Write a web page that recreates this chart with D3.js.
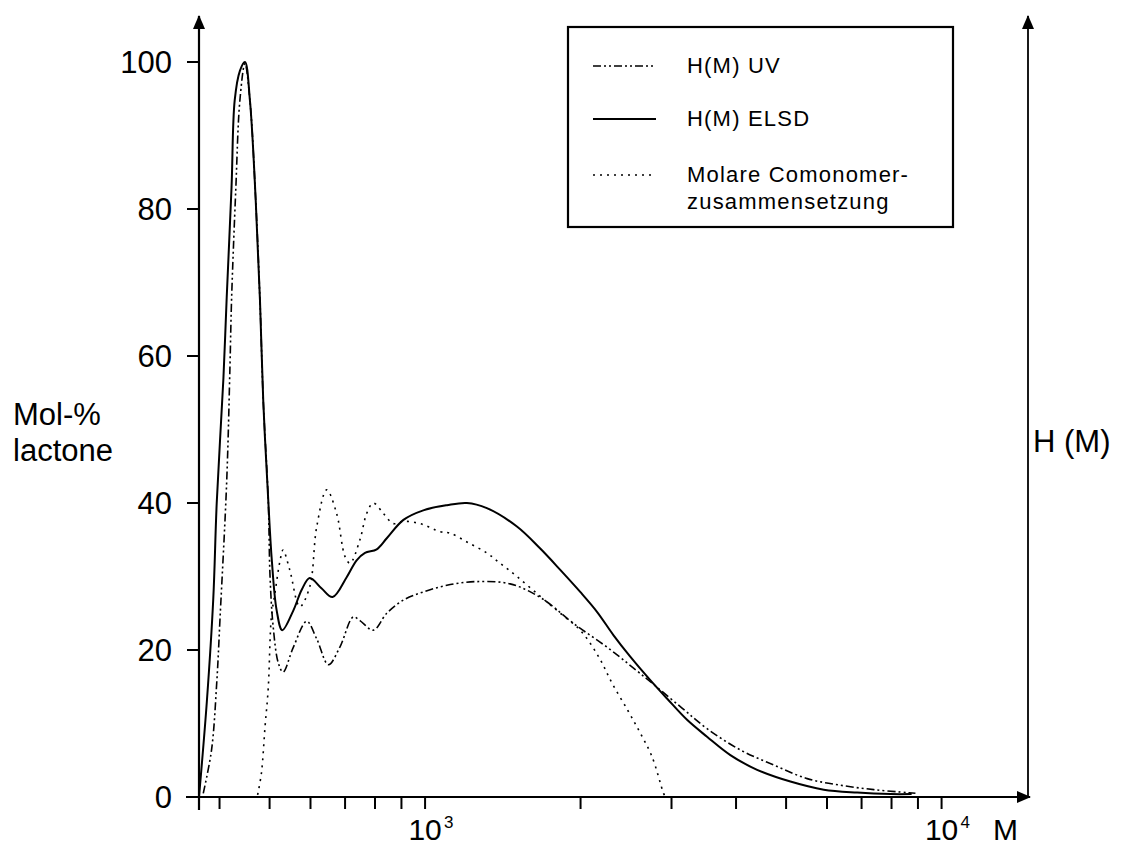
<!DOCTYPE html>
<html>
<head>
<meta charset="utf-8">
<script src="https://cdn.jsdelivr.net/npm/d3@7"></script>
<style>
  body { margin: 0; background: #fff; }
  text { font-family: "Liberation Sans", Arial, sans-serif; fill: #000; }
</style>
</head>
<body>
<svg width="1128" height="847"></svg>
<script>
// values: [M, H]
var uvData = [
  [372,0.5],[386,6.4],[395,15.5],[401,24.5],[413,43],[419,58.5],[422,67.6],[430,82.6],[438,94.8],[448,99.8],
  [458,94.8],[470,81.2],[479,67.6],[486,54],[497,40.4],[501,30],[508,23.2],[520,18.2],[531,17],
  [556,20.4],[590,23.9],[617,21.5],[650,18],[684,20.4],[726,24.5],[748,24],[794,22.7],[843,25],
  [908,26.8],[992,27.9],[1102,28.8],[1250,29.3],[1461,29],[1684,27],[1939,23.6],[2249,20.4],
  [2610,16.8],[3120,12.3],[3515,9.3],[4078,6.4],[4732,4.35],[5493,2.5],[6373,1.6],[7394,1.0],
  [8580,0.6],[8900,0.5]
];

var elsdData = [
  [365,0],[378,13],[389,27],[395,40],[407,57],[413,68],[422,83],[428,94.8],[438,98.8],[448,100],
  [458,94.8],[470,81.2],[479,67.6],[486,54],[497,40.4],[505,32.2],[516,25.4],[529,22.7],[556,25.4],
  [577,28.2],[598,29.8],[630,28.4],[662,27.2],[705,29.9],[737,32.2],[765,33.2],[806,33.7],[843,35.2],
  [908,37.7],[992,39.0],[1102,39.7],[1205,40],[1317,39.3],[1506,36.8],[1671,33.8],[1827,30.9],
  [1997,27.9],[2152,25.2],[2317,22.0],[2496,19.1],[2729,15.9],[2940,13.4],[3215,10.5],[3515,8.2],
  [3900,5.7],[4394,3.7],[5097,2.1],[5914,1.0],[6864,0.6],[7965,0.4],[8750,0.4]
];

var comonomerData = [
  [474,0.3],[482,3.2],[490,9.6],[497,14.8],[504,24.5],[512,27.7],[524,32.2],[531,33.6],[547,30.9],
  [572,25.9],[598,28.6],[617,36.8],[645,41.8],[674,38.6],[700,32.7],[716,31.8],[748,35],[771,38.6],
  [794,40],[830,38.6],[868,37.2],[908,37.5],[978,37.2],[1069,36.1],[1118,35.9],[1205,34.7],
  [1317,33.2],[1397,31.8],[1506,30],[1671,27.3],[1827,25],[1997,22.7],[2167,19.1],[2301,15.5],
  [2477,11.6],[2610,8.7],[2750,5.5],[2896,0.5],[2920,0]
];

var yTicks = [0, 20, 40, 60, 80, 100];
var xMinorTicks = [400, 500, 600, 700, 800, 900, 1000, 2000, 3000, 4000, 5000, 6000, 7000, 8000, 9000, 10000];
var xLabelTicks = [[1000, "3"], [10000, "4"]];
var legendItems = [
  {lines: ["H(M) UV"], dash: "8,3,2,3,2,3", width: 1.6},
  {lines: ["H(M) ELSD"], dash: null, width: 2},
  {lines: ["Molare Comonomer-", "zusammensetzung"], dash: "2,5", width: 1.6}
];

var svg = d3.select("svg");

var x = d3.scaleLog().domain([365, 14700]).range([199, 1028]);
var y = d3.scaleLinear().domain([0, 100]).range([797, 62]);

// arrow heads
var defs = svg.append("defs");
defs.append("marker").attr("id", "arr")
  .attr("viewBox", "0 0 14 12").attr("refX", 13).attr("refY", 6)
  .attr("markerWidth", 14).attr("markerHeight", 12).attr("markerUnits", "userSpaceOnUse")
  .attr("orient", "auto")
  .append("path").attr("d", "M0,0 L14,6 L0,12 Z").attr("fill", "#000");

// axes
var axes = svg.append("g").attr("stroke", "#000").attr("fill", "none");
axes.append("line").attr("x1", 199).attr("x2", 199).attr("y1", 810).attr("y2", 16)
  .attr("stroke-width", 2.2).attr("marker-end", "url(#arr)");
axes.append("line").attr("x1", 186).attr("x2", 1030).attr("y1", y(0)).attr("y2", y(0))
  .attr("stroke-width", 2.2).attr("marker-end", "url(#arr)");
axes.append("line").attr("x1", 1028).attr("x2", 1028).attr("y1", y(0)).attr("y2", 16)
  .attr("stroke-width", 1.8).attr("marker-end", "url(#arr)");

// y ticks
axes.selectAll("line.yt").data(yTicks).enter().append("line")
  .attr("x1", 187).attr("x2", 199)
  .attr("y1", function(d){ return y(d); }).attr("y2", function(d){ return y(d); })
  .attr("stroke-width", 2);
svg.selectAll("text.yl").data(yTicks).enter().append("text")
  .attr("x", 172).attr("y", function(d){ return y(d); }).attr("dy", "0.36em")
  .attr("text-anchor", "end").style("font-size", "31px")
  .text(function(d){ return d; });

// x ticks
axes.selectAll("line.xt").data(xMinorTicks).enter().append("line")
  .attr("x1", function(d){ return x(d); }).attr("x2", function(d){ return x(d); })
  .attr("y1", y(0)).attr("y2", y(0) + 12)
  .attr("stroke-width", 2);

var xl = svg.selectAll("g.xl").data(xLabelTicks).enter().append("g")
  .attr("transform", function(d){ return "translate(" + x(d[0]) + ",840)"; });
xl.append("text").attr("text-anchor", "middle").style("font-size", "30px").text("10");
xl.append("text").attr("x", 19).attr("y", -12).style("font-size", "17px").text(function(d){ return d[1]; });

svg.append("text").attr("x", 993).attr("y", 840).style("font-size", "30px").text("M");

// axis titles
svg.append("text").attr("x", 13).attr("y", 425).style("font-size", "31px").text("Mol-%");
svg.append("text").attr("x", 13).attr("y", 461).style("font-size", "31px").text("lactone");
svg.append("text").attr("x", 1033).attr("y", 452).style("font-size", "31px").text("H (M)");

// curves
var line = d3.line()
  .x(function(d){ return x(d[0]); })
  .y(function(d){ return y(d[1]); })
  .curve(d3.curveCatmullRom.alpha(0.5));

svg.append("path").datum(comonomerData).attr("d", line)
  .attr("fill", "none").attr("stroke", "#000").attr("stroke-width", 1.6)
  .attr("stroke-dasharray", "2,5");
svg.append("path").datum(uvData).attr("d", line)
  .attr("fill", "none").attr("stroke", "#000").attr("stroke-width", 1.6)
  .attr("stroke-dasharray", "8,3,2,3,2,3");
svg.append("path").datum(elsdData).attr("d", line)
  .attr("fill", "none").attr("stroke", "#000").attr("stroke-width", 2);

// legend
var legend = svg.append("g");
legend.append("rect").attr("x", 568).attr("y", 27).attr("width", 385).attr("height", 200)
  .attr("fill", "#fff").attr("stroke", "#000").attr("stroke-width", 2.2);

var rowY = [66, 119, 175];
var rows = legend.selectAll("g.row").data(legendItems).enter().append("g")
  .attr("transform", function(d, i){ return "translate(0," + rowY[i] + ")"; });
rows.append("line").attr("x1", 593).attr("x2", 656).attr("y1", 0).attr("y2", 0)
  .attr("stroke", "#000")
  .attr("stroke-width", function(d){ return d.width; })
  .attr("stroke-dasharray", function(d){ return d.dash; });
rows.each(function(d){
  var g = d3.select(this);
  d.lines.forEach(function(t, j){
    g.append("text").attr("x", 687).attr("y", 7 + j * 27)
      .style("font-size", "22px").style("letter-spacing", "1.2px").text(t);
  });
});
</script>
</body>
</html>
